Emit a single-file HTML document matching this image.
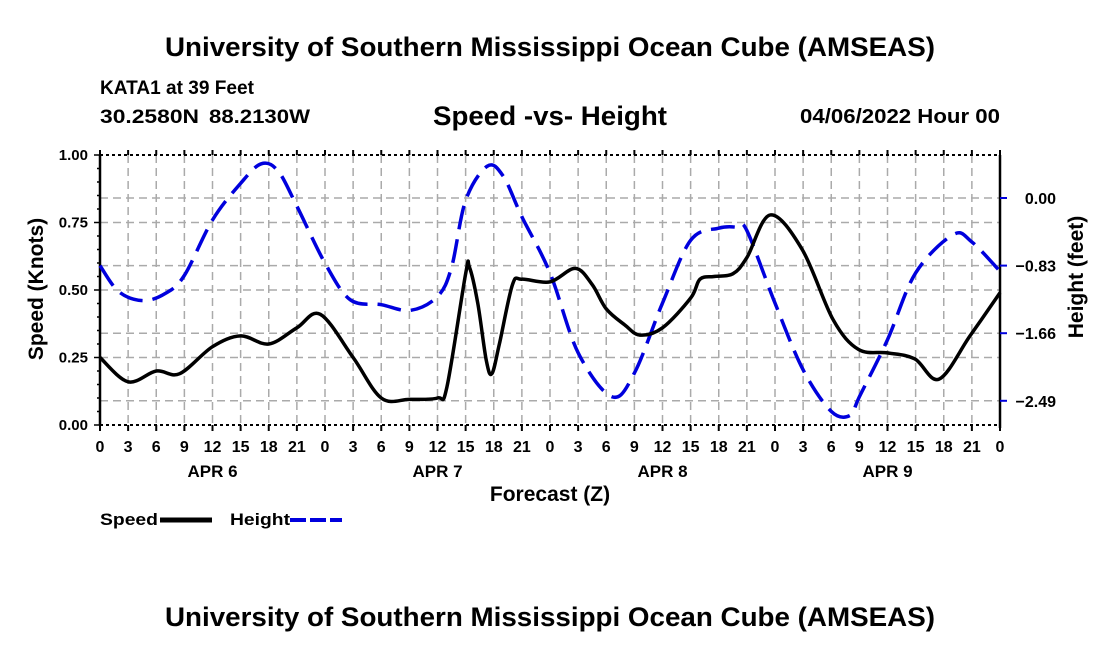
<!DOCTYPE html>
<html><head><meta charset="utf-8"><style>
body{margin:0;background:#fff}
svg text{font-family:"Liberation Sans",Arial,sans-serif;font-weight:bold;fill:#000}
</style></head><body>
<svg id="c" width="1100" height="650" viewBox="0 0 1100 650" xmlns="http://www.w3.org/2000/svg">
<text x="165" y="56" font-size="27" textLength="770" lengthAdjust="spacingAndGlyphs">University of Southern Mississippi Ocean Cube (AMSEAS)</text>
<text x="100" y="94" font-size="19" textLength="154" lengthAdjust="spacingAndGlyphs">KATA1 at 39 Feet</text>
<g>
<text x="100" y="123" font-size="19" textLength="99" lengthAdjust="spacingAndGlyphs">30.2580N</text>
<text x="209" y="123" font-size="19" textLength="101" lengthAdjust="spacingAndGlyphs">88.2130W</text>
</g>
<text x="433" y="125" font-size="27" textLength="234" lengthAdjust="spacingAndGlyphs">Speed -vs- Height</text>
<text x="800" y="123" font-size="20" textLength="200" lengthAdjust="spacingAndGlyphs">04/06/2022 Hour 00</text>
<g id="grid"></g>
<g id="axes"></g>
<g id="series"></g>
<text x="550" y="501" font-size="21" text-anchor="middle">Forecast (Z)</text>
<text transform="translate(43,289) rotate(-90)" font-size="21" text-anchor="middle">Speed (Knots)</text>
<text transform="translate(1083,277) rotate(-90)" font-size="21" text-anchor="middle">Height (feet)</text>
<g>
<text x="100" y="525" font-size="17" textLength="58" lengthAdjust="spacingAndGlyphs">Speed</text>
<line x1="160" y1="520" x2="212" y2="520" stroke="#000" stroke-width="5"/>
</g>
<g>
<text x="230" y="525" font-size="17" textLength="60" lengthAdjust="spacingAndGlyphs">Height</text>
<line x1="290" y1="520" x2="342" y2="520" stroke="#0000dd" stroke-width="4" stroke-dasharray="16,4"/>
</g>
<text x="165" y="626" font-size="27" textLength="770" lengthAdjust="spacingAndGlyphs">University of Southern Mississippi Ocean Cube (AMSEAS)</text>
</svg>
<script>
const speedHours=[0,3,6,8.5,12,15,18,21,23.5,27,30,33,36,37,39,39.4,40.3,41.2,41.8,42.6,44,45,48,50.7,52.5,54,56,57.6,60,63,64,65.5,67.5,69,71.5,74.9,78.2,80.9,84,86.9,89.5,92.8,96];
const speedValues=[0.25,0.16,0.20,0.19,0.29,0.33,0.30,0.36,0.41,0.25,0.10,0.095,0.10,0.14,0.56,0.585,0.45,0.24,0.19,0.30,0.52,0.54,0.53,0.58,0.52,0.43,0.37,0.333,0.36,0.47,0.54,0.55,0.56,0.62,0.778,0.65,0.39,0.28,0.267,0.245,0.17,0.33,0.49];
const heightHours=[0,2,4.6,7,9,12,15,17.2,19,21,24,26.7,30,33.1,36,37.5,39,41.3,43,45,48,51,54.6,57,60,63,66,68,69,72,75,78,80,81,84,87,91,93,96];
const heightValues=[-0.83,-1.15,-1.26,-1.17,-0.95,-0.27,0.18,0.42,0.33,-0.1,-0.8,-1.25,-1.31,-1.38,-1.21,-0.85,-0.03,0.39,0.27,-0.23,-0.92,-1.9,-2.44,-2.15,-1.29,-0.52,-0.37,-0.36,-0.4,-1.29,-2.11,-2.62,-2.67,-2.44,-1.74,-0.92,-0.45,-0.54,-0.9];
const xTickLabels=['0','3','6','9','12','15','18','21','0','3','6','9','12','15','18','21','0','3','6','9','12','15','18','21','0','3','6','9','12','15','18','21','0'];
const dayLabels=['APR 6','APR 7','APR 8','APR 9'];
const leftTicks=[0,0.25,0.5,0.75,1.0];
const rightTicks=[0,-0.83,-1.66,-2.49];
const X0=100,X1=1000,Y0=155,Y1=425;
const xs=h=>X0+(h/96)*(X1-X0);
const ys=v=>Y1-v*(Y1-Y0);
const yh=h=>198-h*(67.6/0.83);
const NS='http://www.w3.org/2000/svg';
function mk(parent,tag,attrs){const e=document.createElementNS(NS,tag);for(const k in attrs)e.setAttribute(k,attrs[k]);document.getElementById(parent).appendChild(e);return e;}
for(let i=1;i<32;i++){const x=xs(i*3);const l=mk('grid','line',{x1:x,y1:Y0,x2:x,y2:Y1,stroke:'#aaa','stroke-width':1.5,'stroke-dasharray':'8,5'});

}
[ys(0.25),ys(0.5),ys(0.75),yh(0),yh(-0.83),yh(-1.66),yh(-2.49)].forEach(y=>{const l=mk('grid','line',{x1:X0,y1:y,x2:X1,y2:y,stroke:'#aaa','stroke-width':1.5,'stroke-dasharray':'8,5'});

});
mk('axes','line',{x1:X0,y1:Y0,x2:X0,y2:Y1,stroke:'#000','stroke-width':2.5});
mk('axes','line',{x1:X1,y1:Y0,x2:X1,y2:Y1+3,stroke:'#000','stroke-width':2.5});
mk('axes','line',{x1:X0,y1:Y0,x2:X1,y2:Y0,stroke:'#000','stroke-width':2,'stroke-dasharray':'3,3'});
mk('axes','line',{x1:X0,y1:Y1,x2:X1,y2:Y1,stroke:'#000','stroke-width':2,'stroke-dasharray':'3,3'});
for(let v=0;v<=1.0001;v+=0.05){const y=ys(v);mk('axes','line',{x1:X0-(Math.abs(v*4-Math.round(v*4))<0.01?6:3),y1:y,x2:X0,y2:y,stroke:'#000','stroke-width':1.5});}
leftTicks.forEach(v=>{const t=mk('axes','text',{x:X0-12,y:ys(v)+5,'font-size':15,'text-anchor':'end'});t.textContent=v.toFixed(2);

});
rightTicks.forEach(v=>{const y=yh(v);mk('axes','line',{x1:X1,y1:y,x2:X1+7,y2:y,stroke:'#0000dd','stroke-width':2});
const t=mk('axes','text',{x:1056,y:y+6,'font-size':16,'text-anchor':'end'});t.textContent=(v===0?'0.00':'\u2212'+Math.abs(v).toFixed(2));

});
xTickLabels.forEach((s,i)=>{const x=xs(i*3);mk('axes','line',{x1:x,y1:Y1,x2:x,y2:Y1+6,stroke:'#000','stroke-width':2});mk('axes','line',{x1:x,y1:Y0,x2:x,y2:Y0-5,stroke:'#000','stroke-width':2});
const t=mk('axes','text',{x:x,y:Y1+27,'font-size':16,'text-anchor':'middle'});t.textContent=s;

});
dayLabels.forEach((s,i)=>{const t=mk('axes','text',{x:xs(i*24+12),y:Y1+52,'font-size':17,'text-anchor':'middle'});t.textContent=s;

});
function path(hx,vy,fy){const p=hx.map((h,i)=>[xs(h),fy(vy[i])]);let d='M'+p[0][0]+','+p[0][1];
for(let i=0;i<p.length-1;i++){const a=p[Math.max(0,i-1)],b=p[i],c=p[i+1],e=p[Math.min(p.length-1,i+2)];
const c1=[b[0]+(c[0]-a[0])/6,b[1]+(c[1]-a[1])/6],c2=[c[0]-(e[0]-b[0])/6,c[1]-(e[1]-b[1])/6];
d+=` C${c1[0]},${c1[1]} ${c2[0]},${c2[1]} ${c[0]},${c[1]}`;}return d;}
const hp=mk('series','path',{d:path(heightHours,heightValues,yh),fill:'none',stroke:'#0000dd','stroke-width':3.5,'stroke-dasharray':'24,10'});


const sp=mk('series','path',{d:path(speedHours,speedValues,ys),fill:'none',stroke:'#000','stroke-width':3.5});


</script>
</body></html>
